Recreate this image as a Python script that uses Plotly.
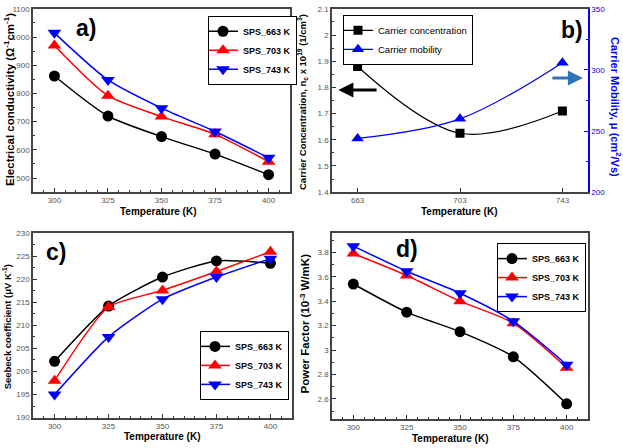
import plotly.graph_objects as go

W, H = 623, 448

# ---------------- data ----------------
temps = [300, 325, 350, 375, 400]
series_names = ["SPS_663 K", "SPS_703 K", "SPS_743 K"]

sigma_663 = [862, 720, 647, 585, 512]
sigma_703 = [970, 792, 718, 655, 558]
sigma_743 = [1015, 848, 748, 665, 572]

sps_temps = [663, 703, 743]
carrier_conc = [1.88, 1.625, 1.71]
carrier_mob = [244, 260, 306]

seebeck_663 = [202.2, 214.2, 220.5, 224.0, 223.5]
seebeck_703 = [198.0, 214.0, 217.6, 221.7, 226.0]
seebeck_743 = [195.0, 207.5, 215.7, 220.5, 224.5]

pf_663 = [3.54, 3.31, 3.15, 2.945, 2.56]
pf_703 = [3.79, 3.61, 3.40, 3.22, 2.855]
pf_743 = [3.85, 3.645, 3.465, 3.235, 2.88]

colors = ["#000000", "#ff0000", "#0000ff"]
symbols = ["circle", "triangle-up", "triangle-down"]

FONT = "Liberation Sans, Arial, sans-serif"

fig = go.Figure()

def add_series(xa, ya, ys, legend, smooth=0.7):
    for name, y, c, s, ms in zip(series_names, ys, colors, symbols, (11, 12, 12)):
        fig.add_trace(go.Scatter(
            x=temps, y=y, name=name, mode="lines+markers",
            line=dict(color=c, width=1.5, shape="spline", smoothing=smooth),
            marker=dict(color=c, symbol=s, size=ms, line=dict(width=0)),
            xaxis=xa, yaxis=ya, legend=legend))

add_series("x", "y", [sigma_663, sigma_703, sigma_743], "legend")
add_series("x3", "y4", [seebeck_663, seebeck_703, seebeck_743], "legend3", smooth=0.6)
add_series("x4", "y5", [pf_663, pf_703, pf_743], "legend4")

fig.add_trace(go.Scatter(
    x=sps_temps, y=carrier_conc, name="Carrier concentration", mode="lines+markers",
    line=dict(color="#000000", width=1.2, shape="spline", smoothing=1),
    marker=dict(color="#000000", symbol="square", size=9),
    xaxis="x2", yaxis="y2", legend="legend2"))
fig.add_trace(go.Scatter(
    x=sps_temps, y=carrier_mob, name="Carrier mobility", mode="lines+markers",
    line=dict(color="#0000ff", width=1.2, shape="spline", smoothing=1),
    marker=dict(color="#0000ff", symbol="triangle-up", size=11),
    xaxis="x2", yaxis="y3", legend="legend2"))

def px_x(p):
    return p / W

def px_y(p):
    return 1 - p / H

tickfont = dict(family=FONT, size=8, color="#555555")

def xax(dom, anchor, rng, tickvals):
    return dict(domain=[px_x(dom[0]), px_x(dom[1])], anchor=anchor, range=rng,
                tickvals=tickvals, ticks="inside", ticklen=4, tickwidth=1,
                tickcolor="#333", showline=True, linecolor="#444", linewidth=1.5,
                mirror=True, showgrid=False, zeroline=False, tickfont=tickfont,
                minor=dict(ticks="inside", ticklen=2, tickcolor="#333", showgrid=False))

def yax(dom, anchor, rng, dtick, minor_dtick, mirror=True):
    return dict(domain=[px_y(dom[1]), px_y(dom[0])], anchor=anchor, range=rng,
                dtick=dtick, ticks="inside", ticklen=4, tickwidth=1, tickcolor="#333",
                showline=True, linecolor="#444", linewidth=1.5, mirror=mirror,
                showgrid=False, zeroline=False, tickfont=tickfont,
                minor=dict(ticks="inside", ticklen=2, dtick=minor_dtick,
                           tickcolor="#333", showgrid=False))

fig.update_layout(
    width=W, height=H, margin=dict(l=0, r=0, t=0, b=0),
    paper_bgcolor="white", plot_bgcolor="white", font=dict(family=FONT),
    xaxis=xax((33, 290), "y", [290, 410], temps),
    yaxis=yax((5, 192), "x", [450, 1100], 100, 50),
    xaxis2=dict(xax((332, 588), "y2", [653, 753], sps_temps), minor=dict(ticks="")),
    yaxis2=yax((5, 192), "x2", [1.4, 2.1], 0.1, 0.05, mirror=False),
    yaxis3=dict(overlaying="y2", side="right", anchor="x2", range=[200, 350], dtick=50,
                ticks="inside", ticklen=4, tickcolor="#0000ff", showline=True,
                linecolor="#0000ff", linewidth=1.5, showgrid=False, zeroline=False,
                tickfont=dict(family=FONT, size=8, color="#0000ff"),
                minor=dict(ticks="inside", ticklen=2, dtick=25, tickcolor="#0000ff")),
    xaxis3=xax((33, 292), "y4", [290, 410], temps),
    yaxis4=yax((234, 422), "x3", [190, 230], 5, 2.5),
    xaxis4=xax((332, 588), "y5", [290, 410], temps),
    yaxis5=yax((234, 423), "x4", [2.44, 3.955], 0.2, 0.1),
    showlegend=True,
)

leg_common = dict(bgcolor="white", bordercolor="#000", borderwidth=1,
                  font=dict(family=FONT, size=9, color="#000", weight="bold"),
                  tracegroupgap=0, itemwidth=30, indentation=-6)
fig.update_layout(
    legend=dict(leg_common, x=px_x(208), y=px_y(12), xanchor="left", yanchor="top"),
    legend2=dict(leg_common, x=px_x(343), y=px_y(11), xanchor="left", yanchor="top",
                 font=dict(family=FONT, size=9.5, color="#000")),
    legend3=dict(leg_common, x=px_x(200), y=px_y(404), xanchor="left", yanchor="bottom"),
    legend4=dict(leg_common, x=px_x(497), y=px_y(244), xanchor="left", yanchor="top"),
)

ann = []
def label(text, x, y, size=11, angle=0, color="#000", bold=True):
    ann.append(dict(text=text, x=px_x(x), y=px_y(y), xref="paper", yref="paper",
                    showarrow=False, textangle=angle,
                    font=dict(family=FONT, size=size, color=color,
                              weight="bold" if bold else "normal"),
                    xanchor="center", yanchor="middle"))

# axis titles
label("Electrical conductivity (Ω<sup>-1</sup>cm<sup>-1</sup>)", 9, 98, 11.5, -90)
label("Temperature (K)", 158, 212, 10)
label("Carrier Concentration, n<sub>c</sub> x 10<sup>19</sup> (1/cm<sup>3</sup>)", 303, 100, 9.5, -90)
label("Temperature (K)", 460, 212, 10)
label("Carrier Mobility, μ (cm<sup>2</sup>/Vs)", 616, 105, 11, 90, color="#0000ff")
label("Seebeck coefficient (μV K<sup>-1</sup>)", 7, 330, 9.5, -90)
label("Temperature (K)", 162, 441, 10)
label("Power Factor (10<sup>-3</sup> W/mK)", 305, 326, 11.5, -90)
label("Temperature (K)", 450, 443, 10)

# panel labels
label("a)", 86, 25, 23)
label("b)", 572, 27, 23)
label("c)", 56, 253, 23)
label("d)", 407, 250, 23)

# arrows in panel b
ann.append(dict(x=655.5, y=1.79, ax=671, ay=1.79, xref="x2", yref="y2",
                axref="x2", ayref="y2", showarrow=True, arrowhead=2,
                arrowsize=1, arrowwidth=3, arrowcolor="#000", text=""))
ann.append(dict(x=751, y=293.5, ax=738.5, ay=293.5, xref="x2", yref="y3",
                axref="x2", ayref="y3", showarrow=True, arrowhead=2,
                arrowsize=1, arrowwidth=3, arrowcolor="#2e75b6", text=""))

fig.update_layout(annotations=ann)

fig.write_html("out.html")
